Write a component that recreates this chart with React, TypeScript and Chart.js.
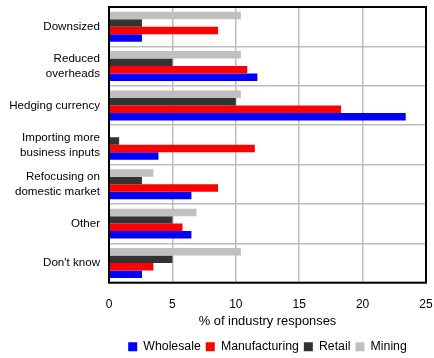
import React, { useEffect, useRef } from "react";
import { Chart, registerables } from "chart.js";

Chart.register(...registerables);

const categories: (string | string[])[] = [
  "Downsized",
  ["Reduced", "overheads"],
  "Hedging currency",
  ["Importing more", "business inputs"],
  ["Refocusing on", "domestic market"],
  "Other",
  "Don't know",
];

const wholesale = [2.6, 11.7, 23.4, 3.9, 6.5, 6.5, 2.6];
const manufacturing = [8.6, 10.9, 18.3, 11.5, 8.6, 5.8, 3.5];
const retail = [2.6, 5.0, 10.0, 0.8, 2.6, 5.0, 5.0];
const mining = [10.4, 10.4, 10.4, 0, 3.5, 6.9, 10.4];

const xTicks = [0, 5, 10, 15, 20, 25];

const FONT = "'Liberation Sans', Arial, sans-serif";
const GRID = "#bdbdbd";

// Black frame around the plotting area
const frame = {
  id: "frame",
  afterDraw(chart: Chart) {
    const { ctx, chartArea } = chart;
    ctx.save();
    ctx.strokeStyle = "#000";
    ctx.lineWidth = 2;
    ctx.strokeRect(
      chartArea.left,
      chartArea.top,
      chartArea.right - chartArea.left,
      chartArea.bottom - chartArea.top
    );
    ctx.restore();
  },
};

export default function App() {
  const ref = useRef<HTMLCanvasElement>(null);

  useEffect(() => {
    document.body.style.margin = "0";
    const chart = new Chart(ref.current!, {
      type: "bar",
      data: {
        labels: categories,
        datasets: [
          { label: "Mining", data: mining, backgroundColor: "#c0c0c0" },
          { label: "Retail", data: retail, backgroundColor: "#333333" },
          { label: "Manufacturing", data: manufacturing, backgroundColor: "#ff0000" },
          { label: "Wholesale", data: wholesale, backgroundColor: "#0000ff" },
        ],
      },
      options: {
        indexAxis: "y",
        responsive: false,
        animation: false,
        datasets: { bar: { categoryPercentage: 0.76, barPercentage: 1 } },
        layout: { padding: { top: 7, right: 8, left: 0, bottom: -5 } },
        scales: {
          x: {
            min: 0,
            max: 25,
            afterBuildTicks: (s: any) => {
              s.ticks = xTicks.map((v) => ({ value: v }));
            },
            afterFit: (s: any) => {
              s.height = 53;
              s.paddingLeft = 0;
              s.paddingRight = 0;
            },
            grid: { color: GRID, drawTicks: false, lineWidth: 1.5 },
            border: { display: false },
            ticks: { color: "#000", font: { family: FONT, size: 12 }, padding: 15 },
            title: {
              display: true,
              text: "% of industry responses",
              color: "#000",
              font: { family: FONT, size: 12.9 },
              padding: { top: 0, bottom: 7 },
            },
          },
          y: {
            grid: { color: GRID, drawTicks: false, offset: true, lineWidth: 1.5 },
            border: { display: false },
            afterFit: (s: any) => {
              s.width = 109;
              s.paddingTop = 0;
              s.paddingBottom = 0;
            },
            ticks: {
              color: "#000",
              font: { family: FONT, size: 11.6, lineHeight: 1.3 },
              padding: 9,
            },
          },
        },
        plugins: {
          legend: {
            position: "bottom",
            reverse: true,
            fullSize: false,
            labels: {
              color: "#000",
              boxWidth: 9,
              boxHeight: 9,
              padding: 5,
              font: { family: FONT, size: 12.3 },
            },
          },
          tooltip: { enabled: false },
        },
      },
      plugins: [frame],
    });
    return () => chart.destroy();
  }, []);

  return <canvas ref={ref} width={434} height={358} />;
}
